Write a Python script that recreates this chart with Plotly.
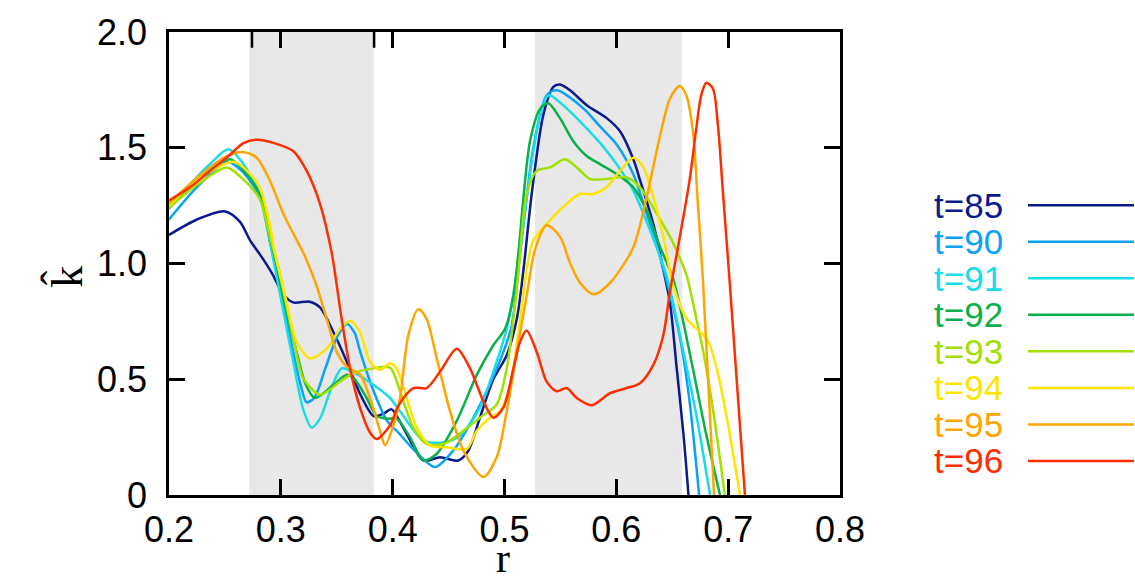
import plotly.graph_objects as go

# ---------------- data ----------------
labels = ["t=85", "t=90", "t=91", "t=92", "t=93", "t=94", "t=95", "t=96"]
colors = ["#0b1a8e", "#0aa2f5", "#18dde6", "#0ab04a", "#a2e000", "#ffe400", "#ffa500", "#ff2e00"]

r85 = [0.200, 0.225, 0.250, 0.2635, 0.2725, 0.284, 0.293, 0.302, 0.311, 0.326, 0.335, 0.347, 0.359, 0.371,
       0.383, 0.392, 0.399, 0.4125, 0.4275, 0.4424, 0.4587, 0.4677, 0.478, 0.490, 0.502, 0.511, 0.517, 0.524,
       0.5347, 0.5437, 0.5496, 0.5586, 0.5735, 0.5914, 0.6033, 0.6152, 0.6212, 0.6331, 0.642, 0.648, 0.654,
       0.660, 0.6645]
k85 = [1.123, 1.19, 1.225, 1.18, 1.10, 1.02, 0.95, 0.867, 0.832, 0.835, 0.81, 0.704, 0.576, 0.435,
       0.341, 0.352, 0.37, 0.263, 0.149, 0.163, 0.149, 0.192, 0.334, 0.50, 0.604, 0.76, 0.974, 1.287,
       1.642, 1.763, 1.773, 1.748, 1.684, 1.628, 1.571, 1.45, 1.36, 1.17, 0.974, 0.83, 0.547,
       0.264, 0.0]

r90 = [0.200, 0.225, 0.252, 0.265, 0.281, 0.290, 0.296, 0.302, 0.311, 0.318, 0.323, 0.330, 0.340, 0.350,
       0.359, 0.366, 0.371, 0.383, 0.395, 0.405, 0.420, 0.4379, 0.4542, 0.469, 0.484, 0.499, 0.5065, 0.514,
       0.5258, 0.5377, 0.5467, 0.5705, 0.5854, 0.6003, 0.6152, 0.6271, 0.639, 0.6565, 0.6655, 0.674]
k90 = [1.19, 1.33, 1.44, 1.40, 1.29, 1.10, 0.97, 0.83, 0.62, 0.47, 0.40, 0.42, 0.55, 0.68,
       0.739, 0.70, 0.618, 0.448, 0.32, 0.27, 0.19, 0.121, 0.192, 0.306, 0.448, 0.618, 0.732, 1.045,
       1.50, 1.727, 1.748, 1.67, 1.592, 1.514, 1.386, 1.215, 1.03, 0.69, 0.405, 0.0]

r91 = [0.200, 0.2218, 0.2367, 0.253, 0.265, 0.281, 0.290, 0.296, 0.302, 0.311, 0.320, 0.3276, 0.335, 0.345,
       0.3544, 0.365, 0.3827, 0.3976, 0.4066, 0.4275, 0.4453, 0.460, 0.478, 0.493, 0.502, 0.511, 0.5288,
       0.5377, 0.5407, 0.5556, 0.5705, 0.5854, 0.6003, 0.6152, 0.6301, 0.645, 0.660, 0.672, 0.6838]
k91 = [1.237, 1.357, 1.43, 1.493, 1.44, 1.30, 1.10, 0.95, 0.80, 0.58, 0.37, 0.291, 0.33, 0.46,
       0.547, 0.53, 0.476, 0.419, 0.362, 0.235, 0.227, 0.256, 0.377, 0.576, 0.718, 0.96, 1.571,
       1.72, 1.727, 1.67, 1.599, 1.521, 1.429, 1.315, 1.144, 0.945, 0.618, 0.334, 0.0]

r92 = [0.200, 0.225, 0.2545, 0.267, 0.281, 0.290, 0.296, 0.302, 0.314, 0.322, 0.3305, 0.347, 0.359, 0.366,
       0.3767, 0.3857, 0.395, 0.4035, 0.4155, 0.4275, 0.4394, 0.4573, 0.4752, 0.490, 0.5005, 0.508, 0.5124,
       0.5228, 0.532, 0.5392, 0.5496, 0.5615, 0.5735, 0.5854, 0.6003, 0.6152, 0.6271, 0.639, 0.651, 0.6684,
       0.6803, 0.6927]
k92 = [1.24, 1.36, 1.45, 1.40, 1.30, 1.12, 1.0, 0.86, 0.62, 0.48, 0.419, 0.476, 0.519, 0.50,
       0.419, 0.341, 0.33, 0.33, 0.249, 0.149, 0.178, 0.32, 0.519, 0.647, 0.718, 0.86, 1.045,
       1.528, 1.67, 1.692, 1.628, 1.528, 1.464, 1.429, 1.386, 1.329, 1.23, 1.073, 0.93, 0.547,
       0.263, 0.0]

r93 = [0.200, 0.225, 0.2516, 0.265, 0.281, 0.290, 0.298, 0.305, 0.312, 0.320, 0.335, 0.353, 0.3648, 0.3827,
       0.3976, 0.4066, 0.4185, 0.4304, 0.4453, 0.4632, 0.478, 0.493, 0.502, 0.508, 0.5124, 0.5198, 0.5288,
       0.5407, 0.5541, 0.5646, 0.5765, 0.5914, 0.6093, 0.6212, 0.6361, 0.651, 0.663, 0.6684, 0.6778, 0.6867,
       0.697]
k93 = [1.24, 1.34, 1.415, 1.37, 1.28, 1.12, 0.98, 0.82, 0.66, 0.504, 0.434, 0.49, 0.526, 0.547,
       0.55, 0.448, 0.291, 0.22, 0.22, 0.277, 0.334, 0.391, 0.547, 0.76, 0.96, 1.30, 1.40,
       1.415, 1.45, 1.415, 1.365, 1.365, 1.372, 1.329, 1.215, 1.087, 0.945, 0.832, 0.618, 0.362,
       0.0]

r94 = [0.200, 0.225, 0.2575, 0.270, 0.281, 0.290, 0.2948, 0.3052, 0.3142, 0.3261, 0.341, 0.353, 0.3619,
       0.3708, 0.3797, 0.3887, 0.3976, 0.4035, 0.4125, 0.4215, 0.434, 0.4483, 0.4662, 0.4752, 0.487, 0.496,
       0.505, 0.514, 0.5198, 0.5258, 0.5407, 0.5556, 0.5675, 0.5794, 0.5914, 0.6033, 0.6152, 0.6241, 0.6331,
       0.642, 0.651, 0.663, 0.6749, 0.6824, 0.6898, 0.6988, 0.7106]
k94 = [1.25, 1.36, 1.44, 1.40, 1.33, 1.17, 1.045, 0.832, 0.661, 0.59, 0.632, 0.718, 0.753,
       0.704, 0.576, 0.54, 0.569, 0.547, 0.419, 0.291, 0.213, 0.206, 0.199, 0.277, 0.334, 0.362,
       0.476, 0.76, 0.974, 1.10, 1.187, 1.258, 1.30, 1.30, 1.33, 1.40, 1.457, 1.415, 1.287,
       1.116, 0.903, 0.76, 0.704, 0.661, 0.547, 0.334, 0.0]

r95 = [0.200, 0.225, 0.250, 0.2665, 0.2784, 0.2903, 0.3022, 0.3142, 0.3216, 0.332, 0.341, 0.350, 0.359,
       0.371, 0.3797, 0.3887, 0.3932, 0.400, 0.4066, 0.414, 0.423, 0.4304, 0.4394, 0.4513, 0.4632, 0.4811,
       0.493, 0.502, 0.511, 0.5198, 0.5273, 0.5377, 0.5496, 0.5586, 0.567, 0.5795, 0.595, 0.6152, 0.6271,
       0.639, 0.648, 0.6566, 0.6625, 0.6685, 0.673, 0.6774, 0.6874]
k95 = [1.26, 1.37, 1.46, 1.481, 1.457, 1.357, 1.215, 1.101, 1.03, 0.903, 0.76, 0.618, 0.554,
       0.519, 0.419, 0.277, 0.215, 0.29, 0.42, 0.69, 0.803, 0.76, 0.59, 0.362, 0.192, 0.078,
       0.163, 0.362, 0.618, 0.86, 1.06, 1.165, 1.116, 1.002, 0.92, 0.867, 0.92, 1.07, 1.287,
       1.55, 1.713, 1.767, 1.727, 1.571, 1.25, 0.93, 0.0]

r96 = [0.200, 0.219, 0.2367, 0.2545, 0.2665, 0.2784, 0.2933, 0.3112, 0.3231, 0.335, 0.3455, 0.3544, 0.3619,
       0.3708, 0.3797, 0.3857, 0.3976, 0.405, 0.4185, 0.4304, 0.4424, 0.4573, 0.4692, 0.4811, 0.490, 0.499,
       0.508, 0.5138, 0.5198, 0.5288, 0.5377, 0.5466, 0.5556, 0.5646, 0.578, 0.5944, 0.6093, 0.6212, 0.6331,
       0.642, 0.648, 0.6555, 0.6655, 0.6714, 0.6759, 0.6804, 0.6863, 0.6908, 0.6952, 0.7012, 0.715]
k96 = [1.272, 1.33, 1.40, 1.47, 1.52, 1.535, 1.521, 1.485, 1.40, 1.258, 1.045, 0.76, 0.547,
       0.377, 0.27, 0.242, 0.30, 0.385, 0.462, 0.462, 0.533, 0.632, 0.547, 0.405, 0.334, 0.377,
       0.547, 0.661, 0.711, 0.618, 0.49, 0.448, 0.462, 0.419, 0.388, 0.44, 0.462, 0.483, 0.562,
       0.69, 0.88, 1.08, 1.36, 1.58, 1.727, 1.781, 1.756, 1.599, 1.315, 0.93, 0.0]

series_r = [r85, r90, r91, r92, r93, r94, r95, r96]
series_k = [k85, k90, k91, k92, k93, k94, k95, k96]

x_ticks = [0.2, 0.3, 0.4, 0.5, 0.6, 0.7, 0.8]
x_ticktext = ["0.2", "0.3", "0.4", "0.5", "0.6", "0.7", "0.8"]
y_ticks = [0, 0.5, 1.0, 1.5, 2.0]
y_ticktext = ["0", "0.5", "1.0", "1.5", "2.0"]

bands = [(0.2718, 0.3830), (0.5273, 0.6588)]
top_marks = [0.2742, 0.3834]

# ---------------- figure ----------------
W, H = 1135, 584
L, R, T, B = 169, 295, 26, 89
pw, ph = W - L - R, H - T - B

def px_x(px):
    return (px - L) / pw

def px_y(py):
    return (H - B - py) / ph

fig = go.Figure()

for (a, b) in bands:
    fig.add_shape(type="rect", xref="x", yref="y", x0=a, x1=b, y0=0, y1=2,
                  fillcolor="#e8e8e8", line_width=0, layer="below")

for m in top_marks:
    fig.add_shape(type="line", xref="x", yref="paper", x0=m, x1=m, y0=1, y1=1 - 16 / ph,
                  line=dict(color="black", width=2.5))

for lab, col, r, k in zip(labels, colors, series_r, series_k):
    fig.add_trace(go.Scatter(x=r, y=k, mode="lines", name=lab, showlegend=False,
                             line=dict(color=col, width=2.5, shape="spline", smoothing=0.8)))

axis_common = dict(ticks="inside", ticklen=16, tickwidth=2.5, tickcolor="black",
                   showline=True, linewidth=2.5, linecolor="black", mirror="ticks",
                   showgrid=False, zeroline=False,
                   tickfont=dict(family="Liberation Sans", size=36, color="black"))

fig.update_xaxes(range=[0.2, 0.8], tickvals=x_ticks, ticktext=x_ticktext,
                 ticklabelstandoff=1, **axis_common)
fig.update_yaxes(range=[0, 2.0], tickvals=y_ticks, ticktext=y_ticktext,
                 ticklabelstandoff=12, **axis_common)

# axis titles
fig.add_annotation(text="r", xref="paper", yref="paper", x=px_x(503), y=px_y(583),
                   showarrow=False, font=dict(family="Liberation Serif", size=42, color="black"),
                   xanchor="center", yanchor="bottom", borderpad=0)
fig.add_annotation(text="k\u0302", xref="paper", yref="paper", x=px_x(66), y=px_y(274),
                   showarrow=False, textangle=-90,
                   font=dict(family="Liberation Serif", size=44, color="black"),
                   xanchor="center", yanchor="middle")

# custom legend: label text then line sample
for i, (lab, col) in enumerate(zip(labels, colors)):
    yc = 201.5 + i * 37.0
    fig.add_annotation(text=lab, xref="paper", yref="paper", x=px_x(1005), y=px_y(yc),
                       showarrow=False, xanchor="right", yanchor="middle",
                       font=dict(family="Liberation Sans", size=35, color=col))
    fig.add_shape(type="line", xref="paper", yref="paper", x0=px_x(1028), x1=px_x(1134),
                  y0=px_y(yc), y1=px_y(yc), line=dict(color=col, width=2.5))

fig.update_layout(width=W, height=H, autosize=False,
                  margin=dict(l=L, r=R, t=T, b=B),
                  paper_bgcolor="white", plot_bgcolor="white")

fig.write_html("out.html")
